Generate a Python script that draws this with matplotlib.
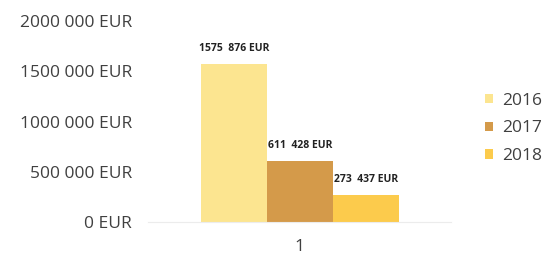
import matplotlib
matplotlib.use("Agg")
import matplotlib.pyplot as plt

# data
years = ["2016", "2017", "2018"]
values = [1575876, 611428, 273437]
value_labels = ["1575  876 EUR", "611  428 EUR", "273  437 EUR"]
colors = ["#FCE590", "#D49A4A", "#FCCB4C"]
yticks = [0, 500000, 1000000, 1500000, 2000000]
ytick_labels = ["0 EUR", "500 000 EUR", "1000 000 EUR", "1500 000 EUR", "2000 000 EUR"]

plt.rcParams['font.family'] = ['Open Sans', 'DejaVu Sans']

fig = plt.figure(figsize=(5.5, 2.57), dpi=100)
ax = fig.add_axes([0.27, 0.136, 0.55, 0.782])

offsets = [-1, 0, 1]
for off, v, lab, c, yr in zip(offsets, values, value_labels, colors, years):
    ax.bar(off, v, width=1.0, color=c, label=yr)
    ax.text(off, v + 100000, lab, fontsize=7.5, fontweight='bold',
            color='#222222', ha='center', va='bottom')

ax.set_xlim(-2.295, 2.295)
ax.set_ylim(0, 2000000)
ax.set_yticks(yticks)
ax.set_yticklabels(ytick_labels, fontsize=12.5, color='#404040')
ax.set_xticks([0])
ax.set_xticklabels(["1"], fontsize=12.5, color='#404040')
ax.tick_params(length=0, pad=12, axis='y')
ax.tick_params(length=0, pad=12, axis='x')
for s in ['top', 'right', 'left']:
    ax.spines[s].set_visible(False)
ax.spines['bottom'].set_color('#ececec')

leg = fig.legend(loc='center left', bbox_to_anchor=(0.882, 0.50), frameon=False,
                 borderaxespad=0, borderpad=0,
                 fontsize=12.5, handlelength=0.46, handleheight=0.46,
                 handletextpad=0.5, labelspacing=0.67)
for t in leg.get_texts():
    t.set_color('#404040')

fig.savefig("out.png", dpi=100)
